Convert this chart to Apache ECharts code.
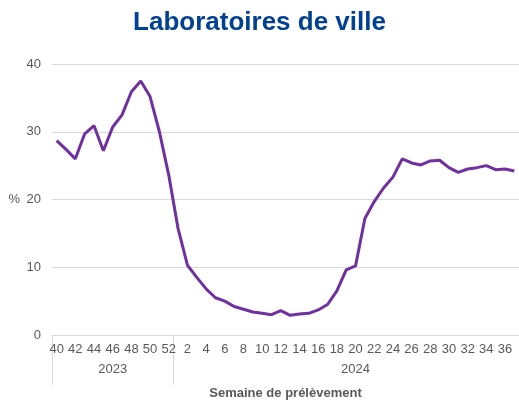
<!DOCTYPE html>
<html>
<head>
<meta charset="utf-8">
<script src="https://cdn.jsdelivr.net/npm/echarts@6/dist/echarts.min.js"></script>
<style>
* { margin: 0; padding: 0; }
html, body { width: 519px; height: 405px; background: #fff; }
#chart { width: 519px; height: 405px; }
</style>
</head>
<body>
<div id="chart"></div>
<script>
// semaines 2023 (40-52) puis 2024 (1-37)
var weeks = ['40','41','42','43','44','45','46','47','48','49','50','51','52',
  '1','2','3','4','5','6','7','8','9','10','11','12','13','14','15','16','17','18','19',
  '20','21','22','23','24','25','26','27','28','29','30','31','32','33','34','35','36','37'];
var years = ['2023', '2024'];
var yearLabelIdx = [6, 32];   // where the year text sits
var yearStartIdx = [0, 13];   // first week of each year
var positivity = [28.7, 27.4, 26.0, 29.7, 30.9, 27.2, 30.7, 32.5, 35.9, 37.5, 35.2, 30.0, 23.6,
  15.7, 10.3, 8.5, 6.8, 5.5, 5.0, 4.2, 3.8, 3.4, 3.2, 3.0, 3.6, 2.9, 3.1, 3.2, 3.7, 4.5, 6.5, 9.6,
  10.2, 17.2, 19.7, 21.7, 23.3, 26.0, 25.4, 25.1, 25.7, 25.8, 24.7, 24.0, 24.5, 24.7, 25.0, 24.4, 24.5, 24.2];

var chart = echarts.init(document.getElementById('chart'));
chart.setOption({
  animation: false,
  title: {
    text: 'Laboratoires de ville',
    left: 'center',
    top: 5,
    textStyle: { fontFamily: 'Liberation Sans', fontSize: 26, fontWeight: 'bold', color: '#004191' }
  },
  grid: { left: 52, right: 0, top: 64, bottom: 68 },
  xAxis: [
    {
      type: 'category',
      data: weeks,
      boundaryGap: true,
      axisLine: { lineStyle: { color: '#d9d9d9', width: 1 } },
      axisTick: { show: false },
      axisLabel: { interval: 1, margin: 8, color: '#595959', fontSize: 13, fontFamily: 'Liberation Sans' },
      name: 'Semaine de prélèvement',
      nameLocation: 'middle',
      nameGap: 52,
      nameTextStyle: { color: '#595959', fontSize: 13, fontWeight: 'bold', fontFamily: 'Liberation Sans' }
    },
    {
      type: 'category',
      data: weeks,
      position: 'bottom',
      boundaryGap: true,
      axisLine: { show: false },
      axisTick: {
        show: true,
        inside: false,
        length: 50,
        interval: function (i) { return yearStartIdx.indexOf(i) >= 0; },
        lineStyle: { color: '#d9d9d9' }
      },
      axisLabel: {
        margin: 28,
        color: '#595959',
        fontSize: 13,
        fontFamily: 'Liberation Sans',
        interval: function (i) { return yearLabelIdx.indexOf(i) >= 0; },
        formatter: function (v, i) {
          var k = yearLabelIdx.indexOf(i);
          return k >= 0 ? years[k] : '';
        }
      }
    }
  ],
  yAxis: {
    type: 'value',
    min: 0,
    max: 40,
    interval: 10,
    axisLine: { show: false },
    axisTick: { show: false },
    axisLabel: { margin: 11, color: '#595959', fontSize: 13, fontFamily: 'Liberation Sans' },
    splitLine: { lineStyle: { color: '#d9d9d9', width: 1 } },
    name: '%',
    nameLocation: 'middle',
    nameRotate: 0,
    nameGap: 32,
    nameTextStyle: { color: '#595959', fontSize: 13, fontFamily: 'Liberation Sans' }
  },
  series: [{
    type: 'line',
    data: positivity,
    xAxisIndex: 0,
    symbol: 'none',
    lineStyle: { color: '#7030a0', width: 3 },
    itemStyle: { color: '#7030a0' }
  }]
});
</script>
</body>
</html>
